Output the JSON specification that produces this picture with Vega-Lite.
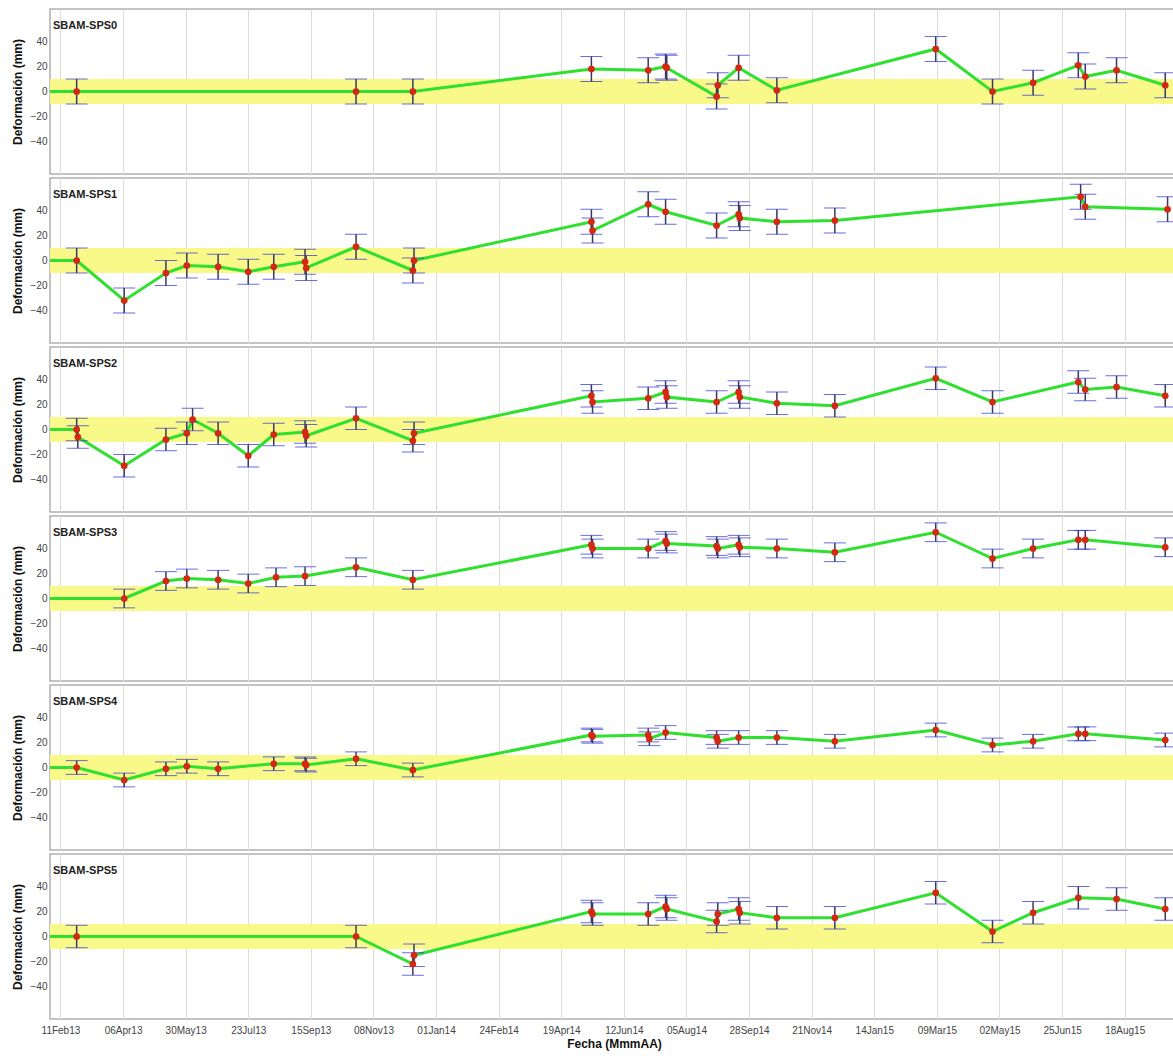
{
  "$schema": "https://vega.github.io/schema/vega-lite/v6.json",
  "padding": {"left": 10, "top": 8, "right": 0, "bottom": 2},
  "spacing": 2,
  "data": {"values": [
    {"s":"SPS0","d":"2013-02-02","v":0},
    {"s":"SPS0","d":"2013-02-25","v":0,"lo":-10,"hi":10},
    {"s":"SPS0","d":"2013-10-24","v":0,"lo":-10,"hi":10},
    {"s":"SPS0","d":"2013-12-12","v":0,"lo":-10,"hi":10},
    {"s":"SPS0","d":"2014-05-15","v":18,"lo":8,"hi":28},
    {"s":"SPS0","d":"2014-07-03","v":17,"lo":7,"hi":27},
    {"s":"SPS0","d":"2014-07-18","v":20,"lo":10,"hi":30},
    {"s":"SPS0","d":"2014-07-19","v":19,"lo":9,"hi":29},
    {"s":"SPS0","d":"2014-08-31","v":-4,"lo":-14,"hi":6},
    {"s":"SPS0","d":"2014-09-01","v":5,"lo":-5,"hi":15},
    {"s":"SPS0","d":"2014-09-19","v":19,"lo":9,"hi":29},
    {"s":"SPS0","d":"2014-10-22","v":1,"lo":-9,"hi":11},
    {"s":"SPS0","d":"2015-03-08","v":34,"lo":24,"hi":44},
    {"s":"SPS0","d":"2015-04-26","v":0,"lo":-10,"hi":10},
    {"s":"SPS0","d":"2015-05-31","v":7,"lo":-3,"hi":17},
    {"s":"SPS0","d":"2015-07-09","v":21,"lo":11,"hi":31},
    {"s":"SPS0","d":"2015-07-15","v":12,"lo":2,"hi":22},
    {"s":"SPS0","d":"2015-08-11","v":17,"lo":7,"hi":27},
    {"s":"SPS0","d":"2015-09-22","v":5,"lo":-5,"hi":15},

    {"s":"SPS1","d":"2013-02-02","v":0},
    {"s":"SPS1","d":"2013-02-25","v":0,"lo":-10,"hi":10},
    {"s":"SPS1","d":"2013-04-07","v":-32,"lo":-42,"hi":-22},
    {"s":"SPS1","d":"2013-05-13","v":-10,"lo":-20,"hi":0},
    {"s":"SPS1","d":"2013-05-31","v":-4,"lo":-14,"hi":6},
    {"s":"SPS1","d":"2013-06-27","v":-5,"lo":-15,"hi":5},
    {"s":"SPS1","d":"2013-07-23","v":-9,"lo":-19,"hi":1},
    {"s":"SPS1","d":"2013-08-14","v":-5,"lo":-15,"hi":5},
    {"s":"SPS1","d":"2013-09-10","v":-1,"lo":-11,"hi":9},
    {"s":"SPS1","d":"2013-09-11","v":-6,"lo":-16,"hi":4},
    {"s":"SPS1","d":"2013-10-24","v":11,"lo":1,"hi":21},
    {"s":"SPS1","d":"2013-12-12","v":-8,"lo":-18,"hi":2},
    {"s":"SPS1","d":"2013-12-13","v":0,"lo":-10,"hi":10},
    {"s":"SPS1","d":"2014-05-15","v":31,"lo":21,"hi":41},
    {"s":"SPS1","d":"2014-05-16","v":24,"lo":14,"hi":34},
    {"s":"SPS1","d":"2014-07-03","v":45,"lo":35,"hi":55},
    {"s":"SPS1","d":"2014-07-18","v":39,"lo":29,"hi":49},
    {"s":"SPS1","d":"2014-08-31","v":28,"lo":18,"hi":38},
    {"s":"SPS1","d":"2014-09-19","v":37,"lo":27,"hi":47},
    {"s":"SPS1","d":"2014-09-20","v":34,"lo":24,"hi":44},
    {"s":"SPS1","d":"2014-10-22","v":31,"lo":21,"hi":41},
    {"s":"SPS1","d":"2014-12-11","v":32,"lo":22,"hi":42},
    {"s":"SPS1","d":"2015-07-11","v":51,"lo":41,"hi":61},
    {"s":"SPS1","d":"2015-07-15","v":43,"lo":33,"hi":53},
    {"s":"SPS1","d":"2015-09-24","v":41,"lo":31,"hi":51},

    {"s":"SPS2","d":"2013-02-02","v":0},
    {"s":"SPS2","d":"2013-02-25","v":0,"lo":-9,"hi":9},
    {"s":"SPS2","d":"2013-02-26","v":-6,"lo":-15,"hi":3},
    {"s":"SPS2","d":"2013-04-07","v":-29,"lo":-38,"hi":-20},
    {"s":"SPS2","d":"2013-05-13","v":-8,"lo":-17,"hi":1},
    {"s":"SPS2","d":"2013-05-31","v":-3,"lo":-12,"hi":6},
    {"s":"SPS2","d":"2013-06-05","v":8,"lo":-1,"hi":17},
    {"s":"SPS2","d":"2013-06-27","v":-3,"lo":-12,"hi":6},
    {"s":"SPS2","d":"2013-07-23","v":-21,"lo":-30,"hi":-12},
    {"s":"SPS2","d":"2013-08-14","v":-4,"lo":-13,"hi":5},
    {"s":"SPS2","d":"2013-09-10","v":-2,"lo":-11,"hi":7},
    {"s":"SPS2","d":"2013-09-11","v":-5,"lo":-14,"hi":4},
    {"s":"SPS2","d":"2013-10-24","v":9,"lo":0,"hi":18},
    {"s":"SPS2","d":"2013-12-12","v":-9,"lo":-18,"hi":0},
    {"s":"SPS2","d":"2013-12-13","v":-3,"lo":-12,"hi":6},
    {"s":"SPS2","d":"2014-05-15","v":27,"lo":18,"hi":36},
    {"s":"SPS2","d":"2014-05-16","v":22,"lo":13,"hi":31},
    {"s":"SPS2","d":"2014-07-03","v":25,"lo":16,"hi":34},
    {"s":"SPS2","d":"2014-07-18","v":30,"lo":21,"hi":39},
    {"s":"SPS2","d":"2014-07-19","v":26,"lo":17,"hi":35},
    {"s":"SPS2","d":"2014-08-31","v":22,"lo":13,"hi":31},
    {"s":"SPS2","d":"2014-09-19","v":30,"lo":21,"hi":39},
    {"s":"SPS2","d":"2014-09-20","v":26,"lo":17,"hi":35},
    {"s":"SPS2","d":"2014-10-22","v":21,"lo":12,"hi":30},
    {"s":"SPS2","d":"2014-12-11","v":19,"lo":10,"hi":28},
    {"s":"SPS2","d":"2015-03-08","v":41,"lo":32,"hi":50},
    {"s":"SPS2","d":"2015-04-26","v":22,"lo":13,"hi":31},
    {"s":"SPS2","d":"2015-07-09","v":38,"lo":29,"hi":47},
    {"s":"SPS2","d":"2015-07-15","v":32,"lo":23,"hi":41},
    {"s":"SPS2","d":"2015-08-11","v":34,"lo":25,"hi":43},
    {"s":"SPS2","d":"2015-09-22","v":27,"lo":18,"hi":36},

    {"s":"SPS3","d":"2013-02-02","v":0},
    {"s":"SPS3","d":"2013-04-07","v":0,"lo":-7.5,"hi":7.5},
    {"s":"SPS3","d":"2013-05-13","v":14,"lo":6.5,"hi":21.5},
    {"s":"SPS3","d":"2013-05-31","v":16,"lo":8.5,"hi":23.5},
    {"s":"SPS3","d":"2013-06-27","v":15,"lo":7.5,"hi":22.5},
    {"s":"SPS3","d":"2013-07-23","v":12,"lo":4.5,"hi":19.5},
    {"s":"SPS3","d":"2013-08-16","v":17,"lo":9.5,"hi":24.5},
    {"s":"SPS3","d":"2013-09-10","v":18,"lo":10.5,"hi":25.5},
    {"s":"SPS3","d":"2013-10-24","v":25,"lo":17.5,"hi":32.5},
    {"s":"SPS3","d":"2013-12-12","v":15,"lo":7.5,"hi":22.5},
    {"s":"SPS3","d":"2014-05-15","v":43,"lo":35.5,"hi":50.5},
    {"s":"SPS3","d":"2014-05-16","v":40,"lo":32.5,"hi":47.5},
    {"s":"SPS3","d":"2014-07-03","v":40,"lo":32.5,"hi":47.5},
    {"s":"SPS3","d":"2014-07-18","v":46,"lo":38.5,"hi":53.5},
    {"s":"SPS3","d":"2014-07-19","v":44,"lo":36.5,"hi":51.5},
    {"s":"SPS3","d":"2014-08-31","v":42,"lo":34.5,"hi":49.5},
    {"s":"SPS3","d":"2014-09-01","v":40,"lo":32.5,"hi":47.5},
    {"s":"SPS3","d":"2014-09-19","v":43,"lo":35.5,"hi":50.5},
    {"s":"SPS3","d":"2014-09-20","v":41,"lo":33.5,"hi":48.5},
    {"s":"SPS3","d":"2014-10-22","v":40,"lo":32.5,"hi":47.5},
    {"s":"SPS3","d":"2014-12-11","v":37,"lo":29.5,"hi":44.5},
    {"s":"SPS3","d":"2015-03-08","v":53,"lo":45.5,"hi":60.5},
    {"s":"SPS3","d":"2015-04-26","v":32,"lo":24.5,"hi":39.5},
    {"s":"SPS3","d":"2015-05-31","v":40,"lo":32.5,"hi":47.5},
    {"s":"SPS3","d":"2015-07-09","v":47,"lo":39.5,"hi":54.5},
    {"s":"SPS3","d":"2015-07-15","v":47,"lo":39.5,"hi":54.5},
    {"s":"SPS3","d":"2015-09-22","v":41,"lo":33.5,"hi":48.5},

    {"s":"SPS4","d":"2013-02-02","v":0},
    {"s":"SPS4","d":"2013-02-25","v":0,"lo":-5.5,"hi":5.5},
    {"s":"SPS4","d":"2013-04-07","v":-10,"lo":-15.5,"hi":-4.5},
    {"s":"SPS4","d":"2013-05-13","v":-1,"lo":-6.5,"hi":4.5},
    {"s":"SPS4","d":"2013-05-31","v":1,"lo":-4.5,"hi":6.5},
    {"s":"SPS4","d":"2013-06-27","v":-1,"lo":-6.5,"hi":4.5},
    {"s":"SPS4","d":"2013-08-14","v":3,"lo":-2.5,"hi":8.5},
    {"s":"SPS4","d":"2013-09-10","v":3,"lo":-2.5,"hi":8.5},
    {"s":"SPS4","d":"2013-09-11","v":2,"lo":-3.5,"hi":7.5},
    {"s":"SPS4","d":"2013-10-24","v":7,"lo":1.5,"hi":12.5},
    {"s":"SPS4","d":"2013-12-12","v":-2,"lo":-7.5,"hi":3.5},
    {"s":"SPS4","d":"2014-05-15","v":26,"lo":20.5,"hi":31.5},
    {"s":"SPS4","d":"2014-05-16","v":25,"lo":19.5,"hi":30.5},
    {"s":"SPS4","d":"2014-07-03","v":26,"lo":20.5,"hi":31.5},
    {"s":"SPS4","d":"2014-07-04","v":23,"lo":17.5,"hi":28.5},
    {"s":"SPS4","d":"2014-07-18","v":28,"lo":22.5,"hi":33.5},
    {"s":"SPS4","d":"2014-08-31","v":24,"lo":18.5,"hi":29.5},
    {"s":"SPS4","d":"2014-09-01","v":21,"lo":15.5,"hi":26.5},
    {"s":"SPS4","d":"2014-09-19","v":24,"lo":18.5,"hi":29.5},
    {"s":"SPS4","d":"2014-10-22","v":24,"lo":18.5,"hi":29.5},
    {"s":"SPS4","d":"2014-12-11","v":21,"lo":15.5,"hi":26.5},
    {"s":"SPS4","d":"2015-03-08","v":30,"lo":24.5,"hi":35.5},
    {"s":"SPS4","d":"2015-04-26","v":18,"lo":12.5,"hi":23.5},
    {"s":"SPS4","d":"2015-05-31","v":21,"lo":15.5,"hi":26.5},
    {"s":"SPS4","d":"2015-07-09","v":27,"lo":21.5,"hi":32.5},
    {"s":"SPS4","d":"2015-07-15","v":27,"lo":21.5,"hi":32.5},
    {"s":"SPS4","d":"2015-09-22","v":22,"lo":16.5,"hi":27.5},

    {"s":"SPS5","d":"2013-02-02","v":0},
    {"s":"SPS5","d":"2013-02-25","v":0,"lo":-9,"hi":9},
    {"s":"SPS5","d":"2013-10-24","v":0,"lo":-9,"hi":9},
    {"s":"SPS5","d":"2013-12-12","v":-22,"lo":-31,"hi":-13},
    {"s":"SPS5","d":"2013-12-13","v":-15,"lo":-24,"hi":-6},
    {"s":"SPS5","d":"2014-05-15","v":20,"lo":11,"hi":29},
    {"s":"SPS5","d":"2014-05-16","v":18,"lo":9,"hi":27},
    {"s":"SPS5","d":"2014-07-03","v":18,"lo":9,"hi":27},
    {"s":"SPS5","d":"2014-07-18","v":24,"lo":15,"hi":33},
    {"s":"SPS5","d":"2014-07-19","v":22,"lo":13,"hi":31},
    {"s":"SPS5","d":"2014-08-31","v":12,"lo":3,"hi":21},
    {"s":"SPS5","d":"2014-09-01","v":18,"lo":9,"hi":27},
    {"s":"SPS5","d":"2014-09-19","v":22,"lo":13,"hi":31},
    {"s":"SPS5","d":"2014-09-20","v":19,"lo":10,"hi":28},
    {"s":"SPS5","d":"2014-10-22","v":15,"lo":6,"hi":24},
    {"s":"SPS5","d":"2014-12-11","v":15,"lo":6,"hi":24},
    {"s":"SPS5","d":"2015-03-08","v":35,"lo":26,"hi":44},
    {"s":"SPS5","d":"2015-04-26","v":4,"lo":-5,"hi":13},
    {"s":"SPS5","d":"2015-05-31","v":19,"lo":10,"hi":28},
    {"s":"SPS5","d":"2015-07-09","v":31,"lo":22,"hi":40},
    {"s":"SPS5","d":"2015-08-11","v":30,"lo":21,"hi":39},
    {"s":"SPS5","d":"2015-09-22","v":22,"lo":13,"hi":31}
  ]},
  "vconcat": [
    {
      "width": 1128, "height": 165,
      "title": {"text": "SBAM-SPS0"},
      "layer": [
        {"data": {"values": [{}]}, "mark": {"type": "rect", "color": "#f9f98a"}, "encoding": {"y": {"datum": -10, "type": "quantitative"}, "y2": {"datum": 10}}},
        {
          "transform": [{"filter": "datum.s === 'SPS0'"}],
          "encoding": {
            "x": {"field": "d", "type": "temporal", "scale": {"type": "utc", "domain": [{"year": 2013, "month": 2, "date": 2, "utc": true}, {"year": 2015, "month": 10, "date": 3, "utc": true}]},
              "axis": {"labels": false, "title": null, "values": [{"year":2013,"month":2,"date":11,"utc":true},{"year":2013,"month":4,"date":6,"utc":true},{"year":2013,"month":5,"date":30,"utc":true},{"year":2013,"month":7,"date":23,"utc":true},{"year":2013,"month":9,"date":15,"utc":true},{"year":2013,"month":11,"date":8,"utc":true},{"year":2014,"month":1,"date":1,"utc":true},{"year":2014,"month":2,"date":24,"utc":true},{"year":2014,"month":4,"date":19,"utc":true},{"year":2014,"month":6,"date":12,"utc":true},{"year":2014,"month":8,"date":5,"utc":true},{"year":2014,"month":9,"date":28,"utc":true},{"year":2014,"month":11,"date":21,"utc":true},{"year":2015,"month":1,"date":14,"utc":true},{"year":2015,"month":3,"date":9,"utc":true},{"year":2015,"month":5,"date":2,"utc":true},{"year":2015,"month":6,"date":25,"utc":true},{"year":2015,"month":8,"date":18,"utc":true}]}},
            "y": {"field": "v", "type": "quantitative", "scale": {"domain": [-66, 66], "nice": false, "zero": false}, "axis": {"title": "Deformación (mm)", "values": [-40, -20, 0, 20, 40]}}
          },
          "layer": [
            {"mark": {"type": "line", "color": "#2fe02f", "strokeWidth": 3}},
            {"transform": [{"filter": "isValid(datum.lo)"}], "mark": {"type": "errorbar", "ticks": {"color": "#2c2cd8", "size": 22, "strokeWidth": 2}, "rule": {"color": "#383868", "strokeWidth": 1.5}}, "encoding": {"y": {"field": "lo", "type": "quantitative"}, "y2": {"field": "hi"}}},
            {"transform": [{"filter": "isValid(datum.lo)"}], "mark": {"type": "point", "filled": true, "color": "#d42810", "size": 45, "opacity": 1}}
          ]
        }
      ]
    },
    {
      "width": 1128, "height": 165,
      "title": {"text": "SBAM-SPS1"},
      "layer": [
        {"data": {"values": [{}]}, "mark": {"type": "rect", "color": "#f9f98a"}, "encoding": {"y": {"datum": -10, "type": "quantitative"}, "y2": {"datum": 10}}},
        {
          "transform": [{"filter": "datum.s === 'SPS1'"}],
          "encoding": {
            "x": {"field": "d", "type": "temporal", "scale": {"type": "utc", "domain": [{"year": 2013, "month": 2, "date": 2, "utc": true}, {"year": 2015, "month": 10, "date": 3, "utc": true}]},
              "axis": {"labels": false, "title": null, "values": [{"year":2013,"month":2,"date":11,"utc":true},{"year":2013,"month":4,"date":6,"utc":true},{"year":2013,"month":5,"date":30,"utc":true},{"year":2013,"month":7,"date":23,"utc":true},{"year":2013,"month":9,"date":15,"utc":true},{"year":2013,"month":11,"date":8,"utc":true},{"year":2014,"month":1,"date":1,"utc":true},{"year":2014,"month":2,"date":24,"utc":true},{"year":2014,"month":4,"date":19,"utc":true},{"year":2014,"month":6,"date":12,"utc":true},{"year":2014,"month":8,"date":5,"utc":true},{"year":2014,"month":9,"date":28,"utc":true},{"year":2014,"month":11,"date":21,"utc":true},{"year":2015,"month":1,"date":14,"utc":true},{"year":2015,"month":3,"date":9,"utc":true},{"year":2015,"month":5,"date":2,"utc":true},{"year":2015,"month":6,"date":25,"utc":true},{"year":2015,"month":8,"date":18,"utc":true}]}},
            "y": {"field": "v", "type": "quantitative", "scale": {"domain": [-66, 66], "nice": false, "zero": false}, "axis": {"title": "Deformación (mm)", "values": [-40, -20, 0, 20, 40]}}
          },
          "layer": [
            {"mark": {"type": "line", "color": "#2fe02f", "strokeWidth": 3}},
            {"transform": [{"filter": "isValid(datum.lo)"}], "mark": {"type": "errorbar", "ticks": {"color": "#2c2cd8", "size": 22, "strokeWidth": 2}, "rule": {"color": "#383868", "strokeWidth": 1.5}}, "encoding": {"y": {"field": "lo", "type": "quantitative"}, "y2": {"field": "hi"}}},
            {"transform": [{"filter": "isValid(datum.lo)"}], "mark": {"type": "point", "filled": true, "color": "#d42810", "size": 45, "opacity": 1}}
          ]
        }
      ]
    },
    {
      "width": 1128, "height": 165,
      "title": {"text": "SBAM-SPS2"},
      "layer": [
        {"data": {"values": [{}]}, "mark": {"type": "rect", "color": "#f9f98a"}, "encoding": {"y": {"datum": -10, "type": "quantitative"}, "y2": {"datum": 10}}},
        {
          "transform": [{"filter": "datum.s === 'SPS2'"}],
          "encoding": {
            "x": {"field": "d", "type": "temporal", "scale": {"type": "utc", "domain": [{"year": 2013, "month": 2, "date": 2, "utc": true}, {"year": 2015, "month": 10, "date": 3, "utc": true}]},
              "axis": {"labels": false, "title": null, "values": [{"year":2013,"month":2,"date":11,"utc":true},{"year":2013,"month":4,"date":6,"utc":true},{"year":2013,"month":5,"date":30,"utc":true},{"year":2013,"month":7,"date":23,"utc":true},{"year":2013,"month":9,"date":15,"utc":true},{"year":2013,"month":11,"date":8,"utc":true},{"year":2014,"month":1,"date":1,"utc":true},{"year":2014,"month":2,"date":24,"utc":true},{"year":2014,"month":4,"date":19,"utc":true},{"year":2014,"month":6,"date":12,"utc":true},{"year":2014,"month":8,"date":5,"utc":true},{"year":2014,"month":9,"date":28,"utc":true},{"year":2014,"month":11,"date":21,"utc":true},{"year":2015,"month":1,"date":14,"utc":true},{"year":2015,"month":3,"date":9,"utc":true},{"year":2015,"month":5,"date":2,"utc":true},{"year":2015,"month":6,"date":25,"utc":true},{"year":2015,"month":8,"date":18,"utc":true}]}},
            "y": {"field": "v", "type": "quantitative", "scale": {"domain": [-66, 66], "nice": false, "zero": false}, "axis": {"title": "Deformación (mm)", "values": [-40, -20, 0, 20, 40]}}
          },
          "layer": [
            {"mark": {"type": "line", "color": "#2fe02f", "strokeWidth": 3}},
            {"transform": [{"filter": "isValid(datum.lo)"}], "mark": {"type": "errorbar", "ticks": {"color": "#2c2cd8", "size": 22, "strokeWidth": 2}, "rule": {"color": "#383868", "strokeWidth": 1.5}}, "encoding": {"y": {"field": "lo", "type": "quantitative"}, "y2": {"field": "hi"}}},
            {"transform": [{"filter": "isValid(datum.lo)"}], "mark": {"type": "point", "filled": true, "color": "#d42810", "size": 45, "opacity": 1}}
          ]
        }
      ]
    },
    {
      "width": 1128, "height": 165,
      "title": {"text": "SBAM-SPS3"},
      "layer": [
        {"data": {"values": [{}]}, "mark": {"type": "rect", "color": "#f9f98a"}, "encoding": {"y": {"datum": -10, "type": "quantitative"}, "y2": {"datum": 10}}},
        {
          "transform": [{"filter": "datum.s === 'SPS3'"}],
          "encoding": {
            "x": {"field": "d", "type": "temporal", "scale": {"type": "utc", "domain": [{"year": 2013, "month": 2, "date": 2, "utc": true}, {"year": 2015, "month": 10, "date": 3, "utc": true}]},
              "axis": {"labels": false, "title": null, "values": [{"year":2013,"month":2,"date":11,"utc":true},{"year":2013,"month":4,"date":6,"utc":true},{"year":2013,"month":5,"date":30,"utc":true},{"year":2013,"month":7,"date":23,"utc":true},{"year":2013,"month":9,"date":15,"utc":true},{"year":2013,"month":11,"date":8,"utc":true},{"year":2014,"month":1,"date":1,"utc":true},{"year":2014,"month":2,"date":24,"utc":true},{"year":2014,"month":4,"date":19,"utc":true},{"year":2014,"month":6,"date":12,"utc":true},{"year":2014,"month":8,"date":5,"utc":true},{"year":2014,"month":9,"date":28,"utc":true},{"year":2014,"month":11,"date":21,"utc":true},{"year":2015,"month":1,"date":14,"utc":true},{"year":2015,"month":3,"date":9,"utc":true},{"year":2015,"month":5,"date":2,"utc":true},{"year":2015,"month":6,"date":25,"utc":true},{"year":2015,"month":8,"date":18,"utc":true}]}},
            "y": {"field": "v", "type": "quantitative", "scale": {"domain": [-66, 66], "nice": false, "zero": false}, "axis": {"title": "Deformación (mm)", "values": [-40, -20, 0, 20, 40]}}
          },
          "layer": [
            {"mark": {"type": "line", "color": "#2fe02f", "strokeWidth": 3}},
            {"transform": [{"filter": "isValid(datum.lo)"}], "mark": {"type": "errorbar", "ticks": {"color": "#2c2cd8", "size": 22, "strokeWidth": 2}, "rule": {"color": "#383868", "strokeWidth": 1.5}}, "encoding": {"y": {"field": "lo", "type": "quantitative"}, "y2": {"field": "hi"}}},
            {"transform": [{"filter": "isValid(datum.lo)"}], "mark": {"type": "point", "filled": true, "color": "#d42810", "size": 45, "opacity": 1}}
          ]
        }
      ]
    },
    {
      "width": 1128, "height": 165,
      "title": {"text": "SBAM-SPS4"},
      "layer": [
        {"data": {"values": [{}]}, "mark": {"type": "rect", "color": "#f9f98a"}, "encoding": {"y": {"datum": -10, "type": "quantitative"}, "y2": {"datum": 10}}},
        {
          "transform": [{"filter": "datum.s === 'SPS4'"}],
          "encoding": {
            "x": {"field": "d", "type": "temporal", "scale": {"type": "utc", "domain": [{"year": 2013, "month": 2, "date": 2, "utc": true}, {"year": 2015, "month": 10, "date": 3, "utc": true}]},
              "axis": {"labels": false, "title": null, "values": [{"year":2013,"month":2,"date":11,"utc":true},{"year":2013,"month":4,"date":6,"utc":true},{"year":2013,"month":5,"date":30,"utc":true},{"year":2013,"month":7,"date":23,"utc":true},{"year":2013,"month":9,"date":15,"utc":true},{"year":2013,"month":11,"date":8,"utc":true},{"year":2014,"month":1,"date":1,"utc":true},{"year":2014,"month":2,"date":24,"utc":true},{"year":2014,"month":4,"date":19,"utc":true},{"year":2014,"month":6,"date":12,"utc":true},{"year":2014,"month":8,"date":5,"utc":true},{"year":2014,"month":9,"date":28,"utc":true},{"year":2014,"month":11,"date":21,"utc":true},{"year":2015,"month":1,"date":14,"utc":true},{"year":2015,"month":3,"date":9,"utc":true},{"year":2015,"month":5,"date":2,"utc":true},{"year":2015,"month":6,"date":25,"utc":true},{"year":2015,"month":8,"date":18,"utc":true}]}},
            "y": {"field": "v", "type": "quantitative", "scale": {"domain": [-66, 66], "nice": false, "zero": false}, "axis": {"title": "Deformación (mm)", "values": [-40, -20, 0, 20, 40]}}
          },
          "layer": [
            {"mark": {"type": "line", "color": "#2fe02f", "strokeWidth": 3}},
            {"transform": [{"filter": "isValid(datum.lo)"}], "mark": {"type": "errorbar", "ticks": {"color": "#2c2cd8", "size": 22, "strokeWidth": 2}, "rule": {"color": "#383868", "strokeWidth": 1.5}}, "encoding": {"y": {"field": "lo", "type": "quantitative"}, "y2": {"field": "hi"}}},
            {"transform": [{"filter": "isValid(datum.lo)"}], "mark": {"type": "point", "filled": true, "color": "#d42810", "size": 45, "opacity": 1}}
          ]
        }
      ]
    },
    {
      "width": 1128, "height": 165,
      "title": {"text": "SBAM-SPS5"},
      "layer": [
        {"data": {"values": [{}]}, "mark": {"type": "rect", "color": "#f9f98a"}, "encoding": {"y": {"datum": -10, "type": "quantitative"}, "y2": {"datum": 10}}},
        {
          "transform": [{"filter": "datum.s === 'SPS5'"}],
          "encoding": {
            "x": {"field": "d", "type": "temporal", "scale": {"type": "utc", "domain": [{"year": 2013, "month": 2, "date": 2, "utc": true}, {"year": 2015, "month": 10, "date": 3, "utc": true}]},
              "axis": {"title": "Fecha (MmmAA)", "format": "%d%b%y", "labelOverlap": false, "labelPadding": 6, "titlePadding": 3, "values": [{"year":2013,"month":2,"date":11,"utc":true},{"year":2013,"month":4,"date":6,"utc":true},{"year":2013,"month":5,"date":30,"utc":true},{"year":2013,"month":7,"date":23,"utc":true},{"year":2013,"month":9,"date":15,"utc":true},{"year":2013,"month":11,"date":8,"utc":true},{"year":2014,"month":1,"date":1,"utc":true},{"year":2014,"month":2,"date":24,"utc":true},{"year":2014,"month":4,"date":19,"utc":true},{"year":2014,"month":6,"date":12,"utc":true},{"year":2014,"month":8,"date":5,"utc":true},{"year":2014,"month":9,"date":28,"utc":true},{"year":2014,"month":11,"date":21,"utc":true},{"year":2015,"month":1,"date":14,"utc":true},{"year":2015,"month":3,"date":9,"utc":true},{"year":2015,"month":5,"date":2,"utc":true},{"year":2015,"month":6,"date":25,"utc":true},{"year":2015,"month":8,"date":18,"utc":true}]}},
            "y": {"field": "v", "type": "quantitative", "scale": {"domain": [-66, 66], "nice": false, "zero": false}, "axis": {"title": "Deformación (mm)", "values": [-40, -20, 0, 20, 40]}}
          },
          "layer": [
            {"mark": {"type": "line", "color": "#2fe02f", "strokeWidth": 3}},
            {"transform": [{"filter": "isValid(datum.lo)"}], "mark": {"type": "errorbar", "ticks": {"color": "#2c2cd8", "size": 22, "strokeWidth": 2}, "rule": {"color": "#383868", "strokeWidth": 1.5}}, "encoding": {"y": {"field": "lo", "type": "quantitative"}, "y2": {"field": "hi"}}},
            {"transform": [{"filter": "isValid(datum.lo)"}], "mark": {"type": "point", "filled": true, "color": "#d42810", "size": 45, "opacity": 1}}
          ]
        }
      ]
    }
  ],
  "config": {
    "view": {"stroke": "#b0b0b0", "strokeWidth": 1.5},
    "axis": {"labelFont": "Liberation Sans", "labelFontSize": 10, "labelColor": "#444444", "titleFont": "Liberation Sans", "titleFontSize": 12, "titleFontWeight": "bold", "titleColor": "#111111", "gridColor": "#dcdcdc", "domain": false, "ticks": false},
    "axisY": {"labelPadding": 3, "titlePadding": 6},
    "title": {"anchor": "start", "frame": "group", "offset": -22, "fontSize": 11, "fontWeight": "bold", "font": "Liberation Sans", "color": "#222222", "dx": 3}
  }
}
